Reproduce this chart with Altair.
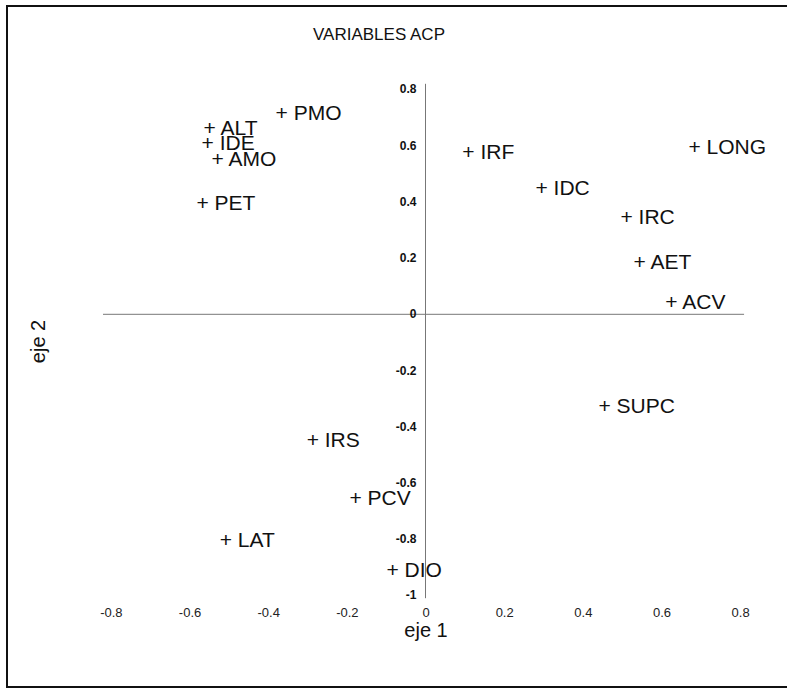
import altair as alt
import pandas as pd

names = ["PMO", "ALT", "IDE", "AMO", "PET", "IRF", "IDC", "LONG", "IRC", "AET",
         "ACV", "SUPC", "IRS", "PCV", "LAT", "DIO"]
eje1 = [-0.366, -0.549, -0.554, -0.529, -0.567, 0.109, 0.295, 0.684, 0.511, 0.544,
        0.625, 0.455, -0.287, -0.178, -0.508, -0.084]
eje2 = [0.712, 0.658, 0.605, 0.548, 0.391, 0.573, 0.445, 0.591, 0.342, 0.181,
        0.039, -0.331, -0.452, -0.658, -0.808, -0.915]

x_ticks = [-0.8, -0.6, -0.4, -0.2, 0, 0.2, 0.4, 0.6, 0.8]
y_ticks = [0.8, 0.6, 0.4, 0.2, 0, -0.2, -0.4, -0.6, -0.8, -1]
y_tick_labels = ["0.8", "0.6", "0.4", "0.2", "0", "-0.2", "-0.4", "-0.6", "-0.8", "-1"]
chart_title = "VARIABLES ACP"

FONT = "Liberation Sans"

pts = pd.DataFrame({"name": names, "eje1": eje1, "eje2": eje2})
pts["label"] = "+ " + pts["name"]

xs = alt.Scale(domain=[-0.82, 0.82], nice=False, zero=False)
ys = alt.Scale(domain=[-1.02, 0.83], nice=False, zero=False)

# axes crossing at zero
hline = alt.Chart(pd.DataFrame({"x1": [-0.82], "x2": [0.81], "y": [0.0]})).mark_rule(
    color="#777777", strokeWidth=1
).encode(
    x=alt.X("x1:Q", scale=xs, axis=alt.Axis(
        title="eje 1", values=x_ticks, format=".1~f",
        labelExpr="replace(datum.label, '\u2212', '-')", labelPadding=5,
        labelFontSize=13, labelFont=FONT, labelColor="#222222",
        titleFont=FONT, titleFontSize=20, titleFontWeight="normal",
        titlePadding=1, titleColor="#111111")),
    x2="x2:Q",
    y=alt.Y("y:Q", scale=ys, axis=alt.Axis(
        title="eje 2", labels=False, titleFont=FONT, titleFontSize=20,
        titleFontWeight="normal", titlePadding=55, titleColor="#111111")),
)

vline = alt.Chart(pd.DataFrame({"x": [0.0], "y1": [-1.01], "y2": [0.82]})).mark_rule(
    color="#777777", strokeWidth=1
).encode(x=alt.X("x:Q", scale=xs), y=alt.Y("y1:Q", scale=ys), y2="y2:Q")

ytick_df = pd.DataFrame({"v": y_ticks, "t": y_tick_labels, "x": [0.0] * len(y_ticks)})
ytick_text = alt.Chart(ytick_df).mark_text(
    align="right", baseline="middle", dx=-9, font=FONT, fontSize=12,
    fontWeight="bold", color="#111111"
).encode(x=alt.X("x:Q", scale=xs), y=alt.Y("v:Q", scale=ys), text="t:N")

labels = alt.Chart(pts).mark_text(
    align="left", baseline="middle", dx=-6, font=FONT, fontSize=21, color="#111111"
).encode(x=alt.X("eje1:Q", scale=xs), y=alt.Y("eje2:Q", scale=ys), text="label:N")

border = alt.Chart(pd.DataFrame({"a": [0]})).mark_rect(
    filled=False, stroke="#111111", strokeWidth=2, clip=False
).encode(
    x=alt.value(-96), x2=alt.value(692), y=alt.value(-75), y2=alt.value(606)
)

title_mark = alt.Chart(pd.DataFrame({"t": [chart_title]})).mark_text(
    align="center", baseline="middle", font=FONT, fontSize=17, color="#111111"
).encode(x=alt.value(276), y=alt.value(-46), text="t:N")

chart = alt.layer(border, hline, vline, ytick_text, labels, title_mark).properties(
    width=645, height=520,
    autosize=alt.AutoSizeParams(type="none"),
    padding={"left": 103, "top": 81, "right": 39, "bottom": 88},
).configure(background="white").configure_view(
    stroke=None, strokeWidth=0
).configure_axis(domain=False, ticks=False, grid=False)

chart.save("out.html", embed_options={"renderer": "svg", "actions": False})
